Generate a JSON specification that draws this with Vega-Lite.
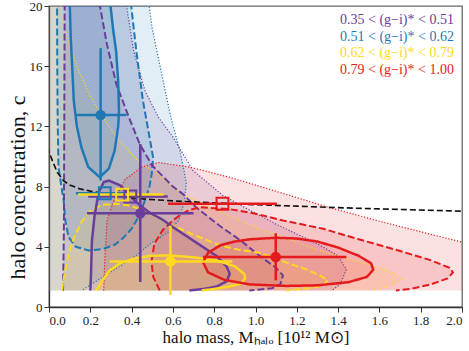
{
  "$schema": "https://vega.github.io/schema/vega-lite/v6.json",
  "width": 413,
  "height": 301,
  "autosize": "none",
  "padding": {"left": 49, "top": 6, "right": 7, "bottom": 44},
  "background": "white",
  "datasets": {
    "contours": [
      {"g":"B","l":3,"x":-0.1,"y":1.1},{"g":"B","l":3,"x":-0.1,"y":20.5},{"g":"B","l":3,"x":0.48,"y":20.5},{"g":"B","l":3,"x":0.5,"y":18.5},{"g":"B","l":3,"x":0.544,"y":15.6},{"g":"B","l":3,"x":0.59,"y":12.6},{"g":"B","l":3,"x":0.633,"y":10.4},{"g":"B","l":3,"x":0.655,"y":9},{"g":"B","l":3,"x":0.665,"y":8.2},{"g":"B","l":3,"x":0.655,"y":7},{"g":"B","l":3,"x":0.63,"y":5.8},{"g":"B","l":3,"x":0.58,"y":5.0},{"g":"B","l":3,"x":0.5,"y":4.3},{"g":"B","l":3,"x":0.42,"y":3.4},{"g":"B","l":3,"x":0.342,"y":2.7},{"g":"B","l":3,"x":0.25,"y":1.9},{"g":"B","l":3,"x":0.16,"y":1.1},
      {"g":"P","l":3,"x":-0.1,"y":1.1},{"g":"P","l":3,"x":-0.1,"y":20.5},{"g":"P","l":3,"x":0.37,"y":20.5},{"g":"P","l":3,"x":0.41,"y":17},{"g":"P","l":3,"x":0.464,"y":14.4},{"g":"P","l":3,"x":0.53,"y":12.6},{"g":"P","l":3,"x":0.6,"y":11.3},{"g":"P","l":3,"x":0.697,"y":9.07},{"g":"P","l":3,"x":0.843,"y":7.4},{"g":"P","l":3,"x":0.95,"y":6.6},{"g":"P","l":3,"x":1.1,"y":5.5},{"g":"P","l":3,"x":1.3,"y":4.2},{"g":"P","l":3,"x":1.4,"y":3.4},{"g":"P","l":3,"x":1.44,"y":2.5},{"g":"P","l":3,"x":1.41,"y":1.5},{"g":"P","l":3,"x":1.37,"y":1.1},
      {"g":"Y","l":3,"x":-0.1,"y":1.1},{"g":"Y","l":3,"x":-0.1,"y":20.5},{"g":"Y","l":3,"x":0.05,"y":20.5},{"g":"Y","l":3,"x":0.068,"y":18.9},{"g":"Y","l":3,"x":0.1,"y":17.3},{"g":"Y","l":3,"x":0.15,"y":15.5},{"g":"Y","l":3,"x":0.2,"y":14},{"g":"Y","l":3,"x":0.246,"y":12.9},{"g":"Y","l":3,"x":0.342,"y":11.0},{"g":"Y","l":3,"x":0.44,"y":9.6},{"g":"Y","l":3,"x":0.53,"y":8.8},{"g":"Y","l":3,"x":0.633,"y":7.6},{"g":"Y","l":3,"x":0.8,"y":6.5},{"g":"Y","l":3,"x":0.95,"y":5.6},{"g":"Y","l":3,"x":1.085,"y":4.87},{"g":"Y","l":3,"x":1.3,"y":3.8},{"g":"Y","l":3,"x":1.5,"y":3.0},{"g":"Y","l":3,"x":1.65,"y":2.4},{"g":"Y","l":3,"x":1.71,"y":1.9},{"g":"Y","l":3,"x":1.67,"y":1.45},{"g":"Y","l":3,"x":1.57,"y":1.1},
      {"g":"R","l":3,"x":0.265,"y":1.1},{"g":"R","l":3,"x":0.27,"y":3},{"g":"R","l":3,"x":0.281,"y":5.75},{"g":"R","l":3,"x":0.314,"y":7.07},{"g":"R","l":3,"x":0.37,"y":8.5},{"g":"R","l":3,"x":0.45,"y":9.3},{"g":"R","l":3,"x":0.53,"y":9.6},{"g":"R","l":3,"x":0.68,"y":9.3},{"g":"R","l":3,"x":0.875,"y":8.62},{"g":"R","l":3,"x":1.133,"y":7.55},{"g":"R","l":3,"x":1.36,"y":6.6},{"g":"R","l":3,"x":1.6,"y":5.7},{"g":"R","l":3,"x":1.8,"y":5.0},{"g":"R","l":3,"x":2.0,"y":4.31},{"g":"R","l":3,"x":2.1,"y":3.9},{"g":"R","l":3,"x":2.1,"y":1.1},
      {"g":"B","l":2,"x":0.039,"y":20.5},{"g":"B","l":2,"x":0.04,"y":16},{"g":"B","l":2,"x":0.042,"y":12.4},{"g":"B","l":2,"x":0.046,"y":9.3},{"g":"B","l":2,"x":0.06,"y":8},{"g":"B","l":2,"x":0.071,"y":7.07},{"g":"B","l":2,"x":0.079,"y":5.75},{"g":"B","l":2,"x":0.095,"y":4.64},{"g":"B","l":2,"x":0.13,"y":4.0},{"g":"B","l":2,"x":0.192,"y":3.76},{"g":"B","l":2,"x":0.26,"y":3.85},{"g":"B","l":2,"x":0.32,"y":4.15},{"g":"B","l":2,"x":0.36,"y":4.6},{"g":"B","l":2,"x":0.4,"y":5.2},{"g":"B","l":2,"x":0.43,"y":5.9},{"g":"B","l":2,"x":0.46,"y":6.9},{"g":"B","l":2,"x":0.485,"y":7.9},{"g":"B","l":2,"x":0.498,"y":8.9},{"g":"B","l":2,"x":0.504,"y":9.95},{"g":"B","l":2,"x":0.48,"y":11.8},{"g":"B","l":2,"x":0.455,"y":13.7},{"g":"B","l":2,"x":0.423,"y":17},{"g":"B","l":2,"x":0.394,"y":20.5},
      {"g":"P","l":2,"x":0.068,"y":1.1},{"g":"P","l":2,"x":0.072,"y":5},{"g":"P","l":2,"x":0.074,"y":12},{"g":"P","l":2,"x":0.076,"y":20.5},{"g":"P","l":2,"x":0.24,"y":20.5},{"g":"P","l":2,"x":0.28,"y":17.5},{"g":"P","l":2,"x":0.326,"y":14.8},{"g":"P","l":2,"x":0.39,"y":12.5},{"g":"P","l":2,"x":0.44,"y":10.8},{"g":"P","l":2,"x":0.5,"y":9.4},{"g":"P","l":2,"x":0.55,"y":8.7},{"g":"P","l":2,"x":0.6,"y":8.0},{"g":"P","l":2,"x":0.649,"y":7.5},{"g":"P","l":2,"x":0.714,"y":6.6},{"g":"P","l":2,"x":0.826,"y":5.4},{"g":"P","l":2,"x":0.93,"y":4.4},{"g":"P","l":2,"x":1.02,"y":3.4},{"g":"P","l":2,"x":1.1,"y":2.6},{"g":"P","l":2,"x":1.133,"y":2.1},{"g":"P","l":2,"x":1.12,"y":1.5},{"g":"P","l":2,"x":1.08,"y":1.25},{"g":"P","l":2,"x":0.97,"y":1.1},
      {"g":"Y","l":2,"x":0.063,"y":1.1},{"g":"Y","l":2,"x":0.075,"y":2.2},{"g":"Y","l":2,"x":0.095,"y":3.54},{"g":"Y","l":2,"x":0.12,"y":4.6},{"g":"Y","l":2,"x":0.16,"y":5.7},{"g":"Y","l":2,"x":0.2,"y":6.4},{"g":"Y","l":2,"x":0.26,"y":6.8},{"g":"Y","l":2,"x":0.32,"y":6.86},{"g":"Y","l":2,"x":0.39,"y":6.75},{"g":"Y","l":2,"x":0.45,"y":6.45},{"g":"Y","l":2,"x":0.504,"y":6.1},{"g":"Y","l":2,"x":0.585,"y":5.5},{"g":"Y","l":2,"x":0.7,"y":4.8},{"g":"Y","l":2,"x":0.827,"y":4.1},{"g":"Y","l":2,"x":0.92,"y":3.8},{"g":"Y","l":2,"x":1.02,"y":3.6},{"g":"Y","l":2,"x":1.15,"y":2.95},{"g":"Y","l":2,"x":1.246,"y":2.5},{"g":"Y","l":2,"x":1.31,"y":2.1},{"g":"Y","l":2,"x":1.35,"y":1.8},{"g":"Y","l":2,"x":1.33,"y":1.45},{"g":"Y","l":2,"x":1.26,"y":1.25},{"g":"Y","l":2,"x":1.15,"y":1.1},
      {"g":"R","l":2,"x":0.536,"y":1.1},{"g":"R","l":2,"x":0.505,"y":2.0},{"g":"R","l":2,"x":0.496,"y":3.0},{"g":"R","l":2,"x":0.51,"y":4.2},{"g":"R","l":2,"x":0.55,"y":5.1},{"g":"R","l":2,"x":0.6,"y":5.75},{"g":"R","l":2,"x":0.634,"y":6.1},{"g":"R","l":2,"x":0.68,"y":6.45},{"g":"R","l":2,"x":0.73,"y":6.63},{"g":"R","l":2,"x":0.875,"y":6.5},{"g":"R","l":2,"x":1.0,"y":6.2},{"g":"R","l":2,"x":1.133,"y":5.75},{"g":"R","l":2,"x":1.327,"y":5.2},{"g":"R","l":2,"x":1.5,"y":4.5},{"g":"R","l":2,"x":1.68,"y":3.8},{"g":"R","l":2,"x":1.85,"y":3.1},{"g":"R","l":2,"x":1.94,"y":2.6},{"g":"R","l":2,"x":1.956,"y":2.3},{"g":"R","l":2,"x":1.93,"y":1.9},{"g":"R","l":2,"x":1.85,"y":1.5},{"g":"R","l":2,"x":1.75,"y":1.2},{"g":"R","l":2,"x":1.68,"y":1.1},
      {"g":"B","l":1,"x":0.1,"y":20.5},{"g":"B","l":1,"x":0.105,"y":18},{"g":"B","l":1,"x":0.112,"y":16},{"g":"B","l":1,"x":0.12,"y":13.7},{"g":"B","l":1,"x":0.135,"y":12},{"g":"B","l":1,"x":0.157,"y":10.6},{"g":"B","l":1,"x":0.19,"y":9.3},{"g":"B","l":1,"x":0.246,"y":8.62},{"g":"B","l":1,"x":0.29,"y":9.2},{"g":"B","l":1,"x":0.318,"y":10.4},{"g":"B","l":1,"x":0.335,"y":12},{"g":"B","l":1,"x":0.339,"y":13},{"g":"B","l":1,"x":0.335,"y":15},{"g":"B","l":1,"x":0.325,"y":17},{"g":"B","l":1,"x":0.31,"y":18.5},{"g":"B","l":1,"x":0.294,"y":20.5},
      {"g":"P","l":1,"x":0.2,"y":1.1},{"g":"P","l":1,"x":0.203,"y":2},{"g":"P","l":1,"x":0.205,"y":3},{"g":"P","l":1,"x":0.208,"y":4.4},{"g":"P","l":1,"x":0.22,"y":6},{"g":"P","l":1,"x":0.24,"y":7.6},{"g":"P","l":1,"x":0.265,"y":8.3},{"g":"P","l":1,"x":0.29,"y":8.4},{"g":"P","l":1,"x":0.346,"y":8.07},{"g":"P","l":1,"x":0.42,"y":7.0},{"g":"P","l":1,"x":0.483,"y":6.3},{"g":"P","l":1,"x":0.55,"y":5.8},{"g":"P","l":1,"x":0.612,"y":5.2},{"g":"P","l":1,"x":0.7,"y":4.4},{"g":"P","l":1,"x":0.81,"y":3.4},{"g":"P","l":1,"x":0.86,"y":2.7},{"g":"P","l":1,"x":0.875,"y":2.2},{"g":"P","l":1,"x":0.86,"y":1.7},{"g":"P","l":1,"x":0.81,"y":1.35},{"g":"P","l":1,"x":0.75,"y":1.2},{"g":"P","l":1,"x":0.68,"y":1.1},
      {"g":"Y","l":1,"x":0.23,"y":1.1},{"g":"Y","l":1,"x":0.26,"y":1.8},{"g":"Y","l":1,"x":0.294,"y":2.43},{"g":"Y","l":1,"x":0.342,"y":2.88},{"g":"Y","l":1,"x":0.407,"y":3.2},{"g":"Y","l":1,"x":0.49,"y":3.4},{"g":"Y","l":1,"x":0.585,"y":3.43},{"g":"Y","l":1,"x":0.7,"y":3.3},{"g":"Y","l":1,"x":0.81,"y":3.1},{"g":"Y","l":1,"x":0.9,"y":2.7},{"g":"Y","l":1,"x":0.945,"y":2.2},{"g":"Y","l":1,"x":0.95,"y":1.9},{"g":"Y","l":1,"x":0.93,"y":1.55},{"g":"Y","l":1,"x":0.87,"y":1.35},{"g":"Y","l":1,"x":0.8,"y":1.2},{"g":"Y","l":1,"x":0.74,"y":1.1},
      {"g":"R","l":1,"x":0.746,"y":2.98},{"g":"R","l":1,"x":0.77,"y":3.6},{"g":"R","l":1,"x":0.83,"y":4.1},{"g":"R","l":1,"x":0.9,"y":4.35},{"g":"R","l":1,"x":0.972,"y":4.5},{"g":"R","l":1,"x":1.1,"y":4.6},{"g":"R","l":1,"x":1.2,"y":4.55},{"g":"R","l":1,"x":1.3,"y":4.35},{"g":"R","l":1,"x":1.4,"y":3.95},{"g":"R","l":1,"x":1.5,"y":3.4},{"g":"R","l":1,"x":1.56,"y":2.9},{"g":"R","l":1,"x":1.57,"y":2.48},{"g":"R","l":1,"x":1.54,"y":2.0},{"g":"R","l":1,"x":1.45,"y":1.65},{"g":"R","l":1,"x":1.3,"y":1.44},{"g":"R","l":1,"x":1.15,"y":1.4},{"g":"R","l":1,"x":0.972,"y":1.5},{"g":"R","l":1,"x":0.85,"y":1.8},{"g":"R","l":1,"x":0.77,"y":2.3},{"g":"R","l":1,"x":0.746,"y":2.98}
    ],
    "relation": [
      {"x":-0.02,"y":11.2},{"x":0.0,"y":10.3},{"x":0.02,"y":9.6},{"x":0.04,"y":8.95},{"x":0.07,"y":8.4},{"x":0.1,"y":8.1},{"x":0.15,"y":7.85},{"x":0.2,"y":7.7},{"x":0.3,"y":7.45},{"x":0.43,"y":7.2},{"x":0.6,"y":7.05},{"x":0.8,"y":6.92},{"x":1.0,"y":6.8},{"x":1.2,"y":6.7},{"x":1.4,"y":6.6},{"x":1.7,"y":6.48},{"x":2.0,"y":6.37}
    ],
    "points": [
      {"g":"B","kind":"circle","x":0.25,"y":12.75,"xlo":0.13,"xhi":0.375,"ylo":8.4,"yhi":17.2},
      {"g":"P","kind":"circle","x":0.442,"y":6.23,"xlo":0.184,"xhi":0.70,"ylo":1.66,"yhi":10.83},
      {"g":"Y","kind":"circle","x":0.588,"y":3.03,"xlo":0.294,"xhi":0.888,"ylo":0.8,"yhi":5.4},
      {"g":"R","kind":"circle","x":1.098,"y":3.32,"xlo":0.746,"xhi":1.44,"ylo":1.77,"yhi":4.9},
      {"g":"B","kind":"square","x":0.27,"y":7.56,"xlo":0.13,"xhi":0.37},
      {"g":"P","kind":"square","x":0.394,"y":7.34,"xlo":0.19,"xhi":0.575},
      {"g":"Y","kind":"square","x":0.354,"y":7.47,"xlo":0.14,"xhi":0.555},
      {"g":"R","kind":"square","x":0.84,"y":6.86,"xlo":0.576,"xhi":1.104}
    ]
  },
  "layer": [
    {
      "data": {"name": "contours"},
      "mark": {"type": "line", "clip": true, "strokeOpacity": 0, "strokeWidth": 0, "fillOpacity": 0.13},
      "encoding": {
        "x": {"field": "x", "type": "quantitative", "scale": {"domain": [0, 2], "nice": false, "zero": false},
              "axis": {"values": [0,0.2,0.4,0.6,0.8,1.0,1.2,1.4,1.6,1.8,2.0], "format": ".1f", "title": "halo mass, Mₕₐₗₒ [10¹² M⊙]", "titlePadding": 2, "titleFontSize": 17}},
        "y": {"field": "y", "type": "quantitative", "scale": {"domain": [0, 20], "nice": false, "zero": false},
              "axis": {"values": [0,2,4,6,8,10,12,14,16,18,20], "format": "d", "title": "halo concentration, c", "titlePadding": 0, "titleFontSize": 22, "titleY": 181}},
        "fill": {"field": "g", "type": "nominal", "scale": {"domain": ["P","B","Y","R"], "range": ["#6a3d9a","#1f78b4","#ffd820","#e41a1c"]},
          "legend": {"labelFont": "Liberation Serif", "labelFontSize": 14, "labelExpr": "datum.value == 'P' ? '0.35 < (g−i)* < 0.51' : datum.value == 'B' ? '0.51 < (g−i)* < 0.62' : datum.value == 'Y' ? '0.62 < (g−i)* < 0.79' : '0.79 < (g−i)* < 1.00'"}},
        "detail": {"field": "l", "type": "nominal"},
        "order": {"value": null}
      }
    },
    {
      "data": {"name": "contours"},
      "mark": {"type": "line", "clip": true},
      "encoding": {
        "x": {"field": "x", "type": "quantitative"},
        "y": {"field": "y", "type": "quantitative"},
        "stroke": {"field": "g", "type": "nominal", "scale": {"domain": ["P","B","Y","R"], "range": ["#6a3d9a","#1f78b4","#ffd820","#e41a1c"]},
          "legend": {"labelFont": "Liberation Serif", "labelFontSize": 14, "labelExpr": "datum.value == 'P' ? '0.35 < (g−i)* < 0.51' : datum.value == 'B' ? '0.51 < (g−i)* < 0.62' : datum.value == 'Y' ? '0.62 < (g−i)* < 0.79' : '0.79 < (g−i)* < 1.00'"}},
        "strokeDash": {"field": "l", "type": "nominal", "scale": {"domain": [1,2,3], "range": [[1,0],[7,3],[1.2,1.8]]}, "legend": null},
        "strokeWidth": {"field": "l", "type": "quantitative", "scale": {"domain": [1,2,3], "range": [2.5,2,1.2]}, "legend": null},
        "order": {"value": null}
      }
    },
    {
      "data": {"name": "relation"},
      "mark": {"type": "line", "clip": true, "color": "#111", "strokeWidth": 1.6, "strokeDash": [6, 3]},
      "encoding": {
        "x": {"field": "x", "type": "quantitative"},
        "y": {"field": "y", "type": "quantitative"}
      }
    },
    {
      "data": {"name": "points"},
      "mark": {"type": "rule", "strokeWidth": 2.5},
      "encoding": {
        "x": {"field": "xlo", "type": "quantitative"},
        "x2": {"field": "xhi"},
        "y": {"field": "y", "type": "quantitative"},
        "color": {"field": "g", "type": "nominal", "scale": {"domain": ["P","B","Y","R"], "range": ["#6a3d9a","#1f78b4","#ffd820","#e41a1c"]},
          "legend": {"labelFont": "Liberation Serif", "labelFontSize": 14, "labelExpr": "datum.value == 'P' ? '0.35 < (g−i)* < 0.51' : datum.value == 'B' ? '0.51 < (g−i)* < 0.62' : datum.value == 'Y' ? '0.62 < (g−i)* < 0.79' : '0.79 < (g−i)* < 1.00'"}}
      }
    },
    {
      "data": {"name": "points"},
      "transform": [{"filter": "datum.ylo != null"}],
      "mark": {"type": "rule", "strokeWidth": 2.5},
      "encoding": {
        "x": {"field": "x", "type": "quantitative"},
        "y": {"field": "ylo", "type": "quantitative"},
        "y2": {"field": "yhi"},
        "color": {"field": "g", "type": "nominal"}
      }
    },
    {
      "data": {"name": "points"},
      "transform": [{"filter": "datum.kind == 'circle'"}],
      "mark": {"type": "circle", "size": 110, "opacity": 1},
      "encoding": {
        "x": {"field": "x", "type": "quantitative"},
        "y": {"field": "y", "type": "quantitative"},
        "color": {"field": "g", "type": "nominal"}
      }
    },
    {
      "data": {"name": "points"},
      "transform": [{"filter": "datum.kind == 'square'"}],
      "mark": {"type": "square", "size": 140, "filled": false, "strokeWidth": 2, "opacity": 1},
      "encoding": {
        "x": {"field": "x", "type": "quantitative"},
        "y": {"field": "y", "type": "quantitative"},
        "color": {"field": "g", "type": "nominal"}
      }
    }
  ],
  "config": {
    "font": "Liberation Serif",
    "view": {"stroke": "#666", "strokeWidth": 1.3},
    "axis": {"labelFont": "Liberation Serif", "labelFontSize": 13, "labelColor": "#222", "labelOverlap": false, "titleFont": "Liberation Serif", "titleFontSize": 17, "titleFontWeight": "normal", "titleColor": "#111", "tickColor": "#333", "domainColor": "#333", "domainWidth": 1.3, "tickSize": 5, "grid": false, "labelPadding": 2},
    "legend": {"orient": "none", "legendX": 277, "legendY": 7, "title": null, "titleFontSize": 0, "titlePadding": 0,
      "symbolOpacity": 0, "symbolSize": 0, "symbolStrokeWidth": 0, "symbolFillColor": "transparent", "symbolStrokeColor": "transparent",
      "labelOffset": 0, "padding": 0, "rowPadding": 2.5,
      "labelFont": "Liberation Serif", "labelFontSize": 14, "labelLimit": 300, "labelColor": {"expr": "scale('color', datum.value)"}}
  }
}
